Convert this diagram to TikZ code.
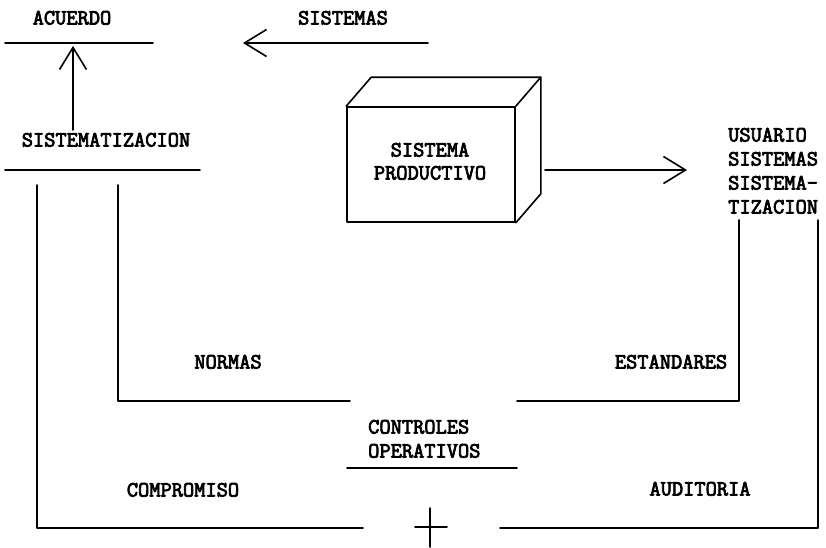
\documentclass[tikz,border=0pt]{standalone}
\usepackage{fontspec}
\newfontfamily\twfont{Latin Modern Mono}[RawFeature={embolden=3.5}]
\usetikzlibrary{arrows.meta}
\begin{document}
\begin{tikzpicture}[x=1pt,y=-1pt,
  lbl/.style={font=\twfont\fontsize{21.8}{24}\selectfont, inner sep=0pt, anchor=base},
  lblw/.style={lbl, anchor=base west},
  ln/.style={line width=1.6pt, line cap=round, line join=round},
  tip/.style={-{Straight Barb[length=22pt,width=27pt,line width=1.6pt]}}
]
\useasboundingbox (0,0) rectangle (826,547);

% labels
\node[lbl] (acuerdo) at (72,24.5) {ACUERDO};
\node[lbl] (sistemas) at (343,24.5) {SISTEMAS};
\node[lbl] (sistematiz) at (106,146.5) {SISTEMATIZACION};
\node[lblw] (usuario) at (728,141.5) {USUARIO};
\node[lblw] (sistemasR) at (728,165.5) {SISTEMAS};
\node[lblw] (sistemaR) at (728,189.5) {SISTEMA-};
\node[lblw] (tizacion) at (728,213.5) {TIZACION};
\node[lbl] (normas) at (228,368.5) {NORMAS};
\node[lbl] (estandares) at (671,368.5) {ESTANDARES};
\node[lblw] (controles) at (368,433.5) {CONTROLES};
\node[lblw] (operativos) at (368,457.5) {OPERATIVOS};
\node[lbl] (compromiso) at (183,496.5) {COMPROMISO};
\node[lbl] (auditoria) at (700,495.5) {AUDITORIA};

% box
\node[draw, ln, minimum width=168pt, minimum height=115pt, inner sep=0pt] (box) at (431,164.5) {};
\draw[ln] (box.north west) -- ([shift={(25,-29)}]box.north west)
  -- ([shift={(25,-29)}]box.north east) -- ([shift={(25,-29)}]box.south east) -- (box.south east);
\draw[ln] (box.north east) -- ([shift={(25,-29)}]box.north east);
\node[lbl] (sp1) at (430,156.5) {SISTEMA};
\node[lbl] (sp2) at (430,179.5) {PRODUCTIVO};

% coordinates
\coordinate (acl) at (5,43);
\coordinate (acr) at (153,43);
\coordinate (sa) at (428,43);
\coordinate (sb) at (243,43);
\coordinate (upb) at (73,130);
\coordinate (upt) at (73,46);
\coordinate (sl) at (5,170);
\coordinate (sr) at (200,170);
\coordinate (ra) at (545,170);
\coordinate (rb) at (687,170);
\coordinate (lo) at (37,185);
\coordinate (loe) at (363,528);
\coordinate (li) at (118,185);
\coordinate (lie) at (350,401);
\coordinate (ri) at (739,220);
\coordinate (rie) at (517,401);
\coordinate (ro) at (818,220);
\coordinate (roe) at (500,528);
\coordinate (cl) at (347,468);
\coordinate (cr) at (517,468);
\coordinate (xh1) at (415,527);
\coordinate (xh2) at (447,527);
\coordinate (xv1) at (430,508);
\coordinate (xv2) at (430,547);

% lines and arrows
\draw[ln] (acl) -- (acr);
\draw[ln,tip] (sa) -- (sb);
\draw[ln,tip] (upb) -- (upt);
\draw[ln] (sl) -- (sr);
\draw[ln,tip] (ra) -- (rb);
\draw[ln] (lo) |- (loe);
\draw[ln] (li) |- (lie);
\draw[ln] (ri) |- (rie);
\draw[ln] (ro) |- (roe);
\draw[ln] (cl) -- (cr);
\draw[ln] (xh1) -- (xh2);
\draw[ln] (xv1) -- (xv2);
\end{tikzpicture}
\end{document}
